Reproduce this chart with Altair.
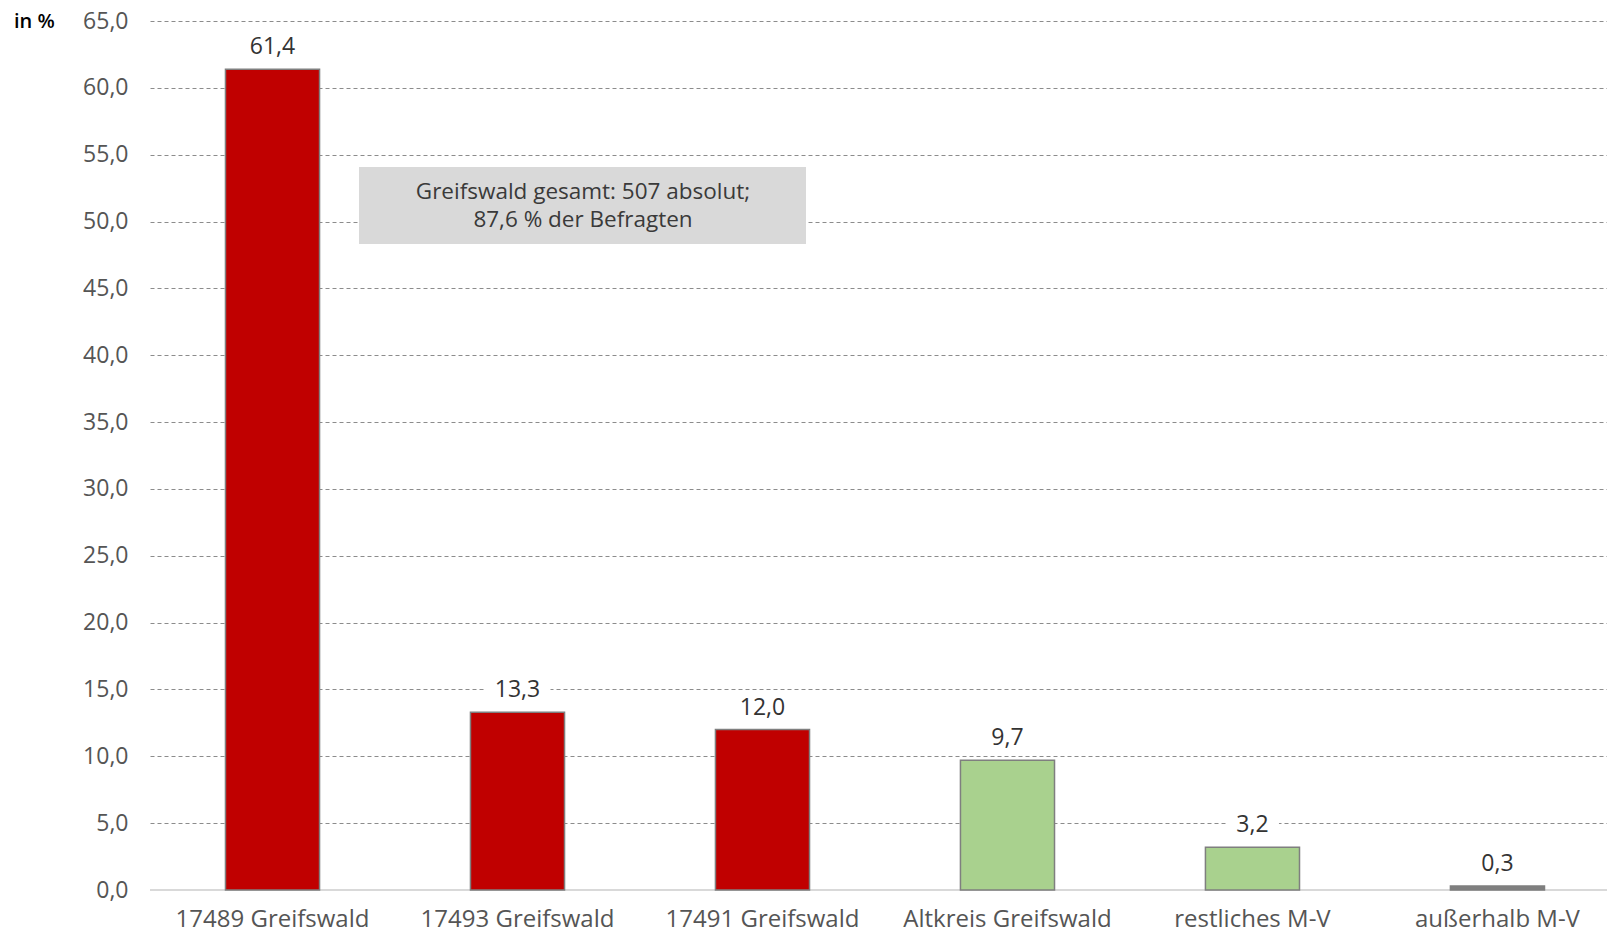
import altair as alt
import pandas as pd

# Wohnort der Befragten (Anteile in %)
categories = [
    "17489 Greifswald",
    "17493 Greifswald",
    "17491 Greifswald",
    "Altkreis Greifswald",
    "restliches M-V",
    "außerhalb M-V",
]
values = [61.4, 13.3, 12.0, 9.7, 3.2, 0.3]
groups = ["Greifswald", "Greifswald", "Greifswald", "Umland", "Umland", "außerhalb"]

note_lines = ["Greifswald gesamt: 507 absolut;", "87,6 % der Befragten"]
y_ticks = [0, 5, 10, 15, 20, 25, 30, 35, 40, 45, 50, 55, 60, 65]

FONT = "Open Sans"

df = pd.DataFrame({"cat": categories, "value": values, "group": groups})
single = pd.DataFrame({"n": [0]})  # one row for the decorations

W, H = 1457, 869

x_enc = alt.X(
    "cat:N",
    sort=categories,
    scale=alt.Scale(paddingInner=0.616, paddingOuter=0.2816, align=0.547),
    axis=alt.Axis(
        title=None, labelAngle=0, labelFontSize=24, labelColor="#555555",
        labelPadding=17, ticks=False, domain=False, labelFont=FONT,
        labelFontWeight=500, labelLimit=0,
    ),
)
y_scale = alt.Scale(domain=[0, 65], nice=False, zero=True)
y_enc = alt.Y(
    "value:Q",
    scale=y_scale,
    axis=alt.Axis(
        title=None, values=y_ticks, grid=True, gridDash=[4, 3],
        gridColor="#8c8c8c", gridWidth=1, ticks=False, domain=False,
        labelPadding=22, labelFontSize=23, labelColor="#555555", labelFont=FONT,
        labelFontWeight=500,
        labelExpr="replace(format(datum.value, '.1f'), '.', ',')",
    ),
)

base = alt.Chart(df).transform_calculate(
    label="replace(format(datum.value, '.1f'), '.', ',')"
).transform_calculate(
    bgw="length(datum.label) * 13 + 14"
)

# white patch behind the value labels so gridlines are interrupted
label_bg = base.mark_bar(color="white", yOffset=-35, y2Offset=-9).encode(
    x=x_enc,
    y=alt.Y("value:Q", scale=y_scale),
    y2="value:Q",
    size=alt.Size("bgw:Q", scale=None, legend=None),
)

note_box = alt.Chart(single).mark_rect(color="#d9d9d9").encode(
    x=alt.value(209), x2=alt.value(656),
    y=alt.value(146), y2=alt.value(223),
)

note_style = dict(font=FONT, fontSize=22.5, fontWeight=500, color="#3a3a3a",
                  align="center", baseline="middle")
note_line1 = alt.Chart(single).mark_text(text=note_lines[0], **note_style).encode(
    x=alt.value(433), y=alt.value(171)
)
note_line2 = alt.Chart(single).mark_text(text=note_lines[1], **note_style).encode(
    x=alt.value(433), y=alt.value(199)
)

zero_line = alt.Chart(single).mark_rule(color="#d9d9d9", strokeWidth=2).encode(
    y=alt.datum(0)
)

bars = base.mark_bar(stroke="#7f7f7f", strokeWidth=1.5).encode(
    x=x_enc,
    y=y_enc,
    color=alt.Color(
        "group:N",
        scale=alt.Scale(
            domain=["Greifswald", "Umland", "außerhalb"],
            range=["#c00000", "#a9d18e", "#7f7f7f"],
        ),
        legend=None,
    ),
)

labels = base.mark_text(
    dy=-22, font=FONT, fontSize=23, fontWeight=500, color="#333333",
    baseline="middle",
).encode(x=x_enc, y=alt.Y("value:Q", scale=y_scale), text="label:N")

unit = alt.Chart(single).mark_text(
    text="in %", font=FONT, fontSize=20, fontWeight=600, color="#000000",
    align="left", baseline="middle",
).encode(x=alt.value(-136), y=alt.value(1))

chart = alt.layer(
    label_bg, note_box, note_line1, note_line2, zero_line, bars, labels, unit
).properties(
    width=W, height=H,
    padding={"left": 150, "top": 21, "right": 0, "bottom": 45},
    autosize=alt.AutoSizeParams(type="none"),
    background="white",
).configure_view(stroke=None)

chart.save("out.html", embed_options={"renderer": "svg", "actions": False})
